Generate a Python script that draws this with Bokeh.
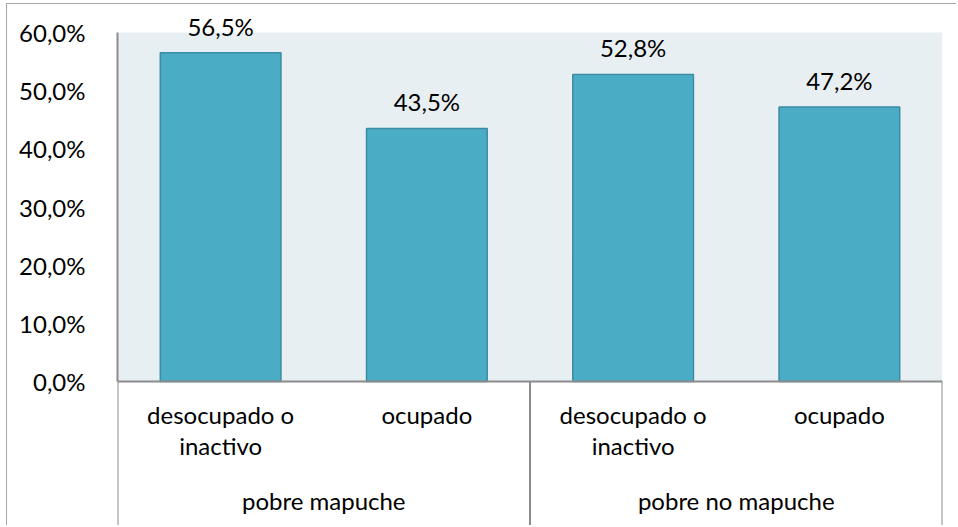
from bokeh.plotting import figure
from bokeh.models import (FactorRange, ColumnDataSource, LabelSet, FixedTicker, Range1d,
                          BoxAnnotation)
from bokeh.core.properties import value
from bokeh.embed import file_html
from bokeh.resources import INLINE

groups = ["pobre mapuche", "pobre mapuche", "pobre no mapuche", "pobre no mapuche"]
categories = ["desocupado o\ninactivo", "ocupado", "desocupado o\ninactivo", "ocupado"]
values = [56.5, 43.5, 52.8, 47.2]
value_labels = ["56,5%", "43,5%", "52,8%", "47,2%"]
tick_values = [0, 10, 20, 30, 40, 50, 60]
tick_labels = ["0,0%", "10,0%", "20,0%", "30,0%", "40,0%", "50,0%", "60,0%"]

# a leading line break gives the group row a little extra drop below the categories
factors = [("\n" + g, c) for g, c in zip(groups, categories)]
src = ColumnDataSource(dict(x=factors, top=values, label=value_labels))

FONT = "Lato"
FS = "24px"
GRAY = "#8c8c8c"

# layout (page pixels)
OX, OY = 7, 4            # figure origin on page (after css margin + border)
W, H = 950, 522
FRAME_L, FRAME_R = 117, 942
Y0_PX, Y60_PX = 381, 32  # pixel rows of 0% and 60%
ppu = (Y0_PX - Y60_PX) / 60.0
y_end = 60 + (Y60_PX - OY) / ppu
y_start = -((OY + H) - Y0_PX) / ppu

p = figure(width=W, height=H, output_backend="svg", toolbar_location=None, title=None,
           x_range=FactorRange(*factors, factor_padding=0, group_padding=0, range_padding=0),
           y_range=Range1d(y_start, y_end),
           min_border_left=FRAME_L - OX, min_border_right=(OX + W) - FRAME_R,
           min_border_top=0, min_border_bottom=0)
p.styles = {"margin-left": "6px", "margin-top": "3px",
            "border-left": "1px solid #a6a6a6", "border-top": "1px solid #a6a6a6"}

p.background_fill_color = "white"
p.border_fill_color = "white"
p.outline_line_color = None
p.xgrid.grid_line_color = None
p.ygrid.grid_line_color = None

# plot area background (0 - 60%)
p.add_layout(BoxAnnotation(bottom=tick_values[0], top=tick_values[-1], fill_color="#E8EFF3",
                           fill_alpha=1.0, line_color=None, level="underlay"))

p.vbar(x="x", top="top", width=0.585, source=src, fill_color="#4BACC6",
       line_color="#3A8CA5", line_width=1.5)

labels = LabelSet(x="x", y="top", text="label", source=src, text_align="center",
                  text_baseline="alphabetic", y_offset=17, text_font=value(FONT),
                  text_font_size=FS, text_color="black")
p.add_layout(labels)

# vertical separators below the category axis at group boundaries (synthetic coords)
n_per_group = len(factors) // len(set(groups))
bounds = list(range(0, len(factors) + 1, n_per_group))
p.segment(x0=bounds, y0=[0] * len(bounds), x1=bounds, y1=[y_start] * len(bounds),
          line_color=GRAY, line_width=2)

ya = p.yaxis[0]
ya.ticker = FixedTicker(ticks=tick_values)
ya.bounds = (tick_values[0], tick_values[-1])
ya.major_label_overrides = {v: t for v, t in zip(tick_values, tick_labels)}
ya.major_tick_line_color = None
ya.minor_tick_line_color = None
ya.major_label_standoff = 26
ya.major_label_text_font = FONT
ya.major_label_text_font_size = FS
ya.major_label_text_color = "black"
ya.axis_line_color = GRAY
ya.axis_line_width = 2

xa = p.xaxis[0]
xa.fixed_location = 0
xa.major_tick_line_color = None
xa.minor_tick_line_color = None
xa.axis_line_color = GRAY
xa.axis_line_width = 2
xa.major_label_standoff = 12
xa.major_label_text_font = FONT
xa.major_label_text_font_size = FS
xa.major_label_text_line_height = 1.1
xa.major_label_text_color = "black"
xa.group_text_font = FONT
xa.group_text_font_size = FS
xa.group_text_line_height = 0.35
xa.group_text_color = "black"
xa.group_text_font_style = "normal"
xa.separator_line_color = None

open("out.html", "w").write(file_html(p, INLINE))
